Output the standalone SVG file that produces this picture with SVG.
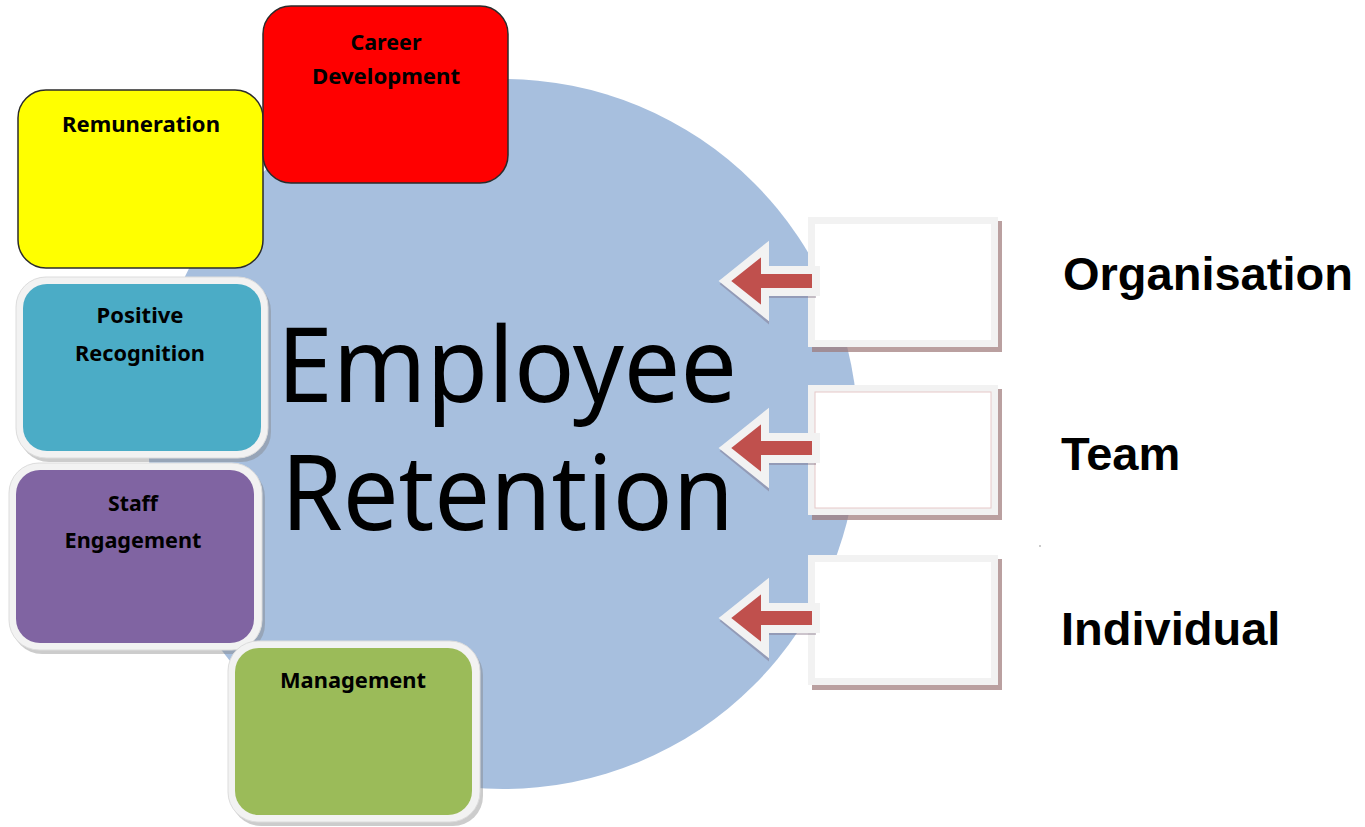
<svg xmlns="http://www.w3.org/2000/svg" width="1365" height="827" viewBox="0 0 1365 827">
  <style>
    .lbl { font-family: "Noto Sans", "Open Sans", sans-serif; font-weight: bold; font-size: 21px; fill: #000; text-anchor: middle; }
    .big { font-family: "Noto Sans", "Open Sans", sans-serif; font-size: 104px; fill: #000; }
    .side { font-family: "Liberation Sans", Arial, sans-serif; font-weight: bold; font-size: 47px; fill: #000; }
    .plain { stroke: #2b2b2b; stroke-width: 1.5; }
    .frame { fill: #f2f2f2; stroke: #dcdcdc; stroke-width: 1; }
    .shadow { fill: #7f7f7f; opacity: 0.4; }
    .slot-frame { fill: #f2f2f2; }
    .slot-shadow { fill: #9c7878; opacity: 0.7; }
    .arrow { fill: #c0504d; stroke: #f2f2f2; stroke-width: 8; stroke-linejoin: miter; }
    .arrow-shadow { fill: #6f5a70; stroke: #6f5a70; stroke-width: 8; opacity: 0.35; }
  </style>

  <rect width="1365" height="827" fill="#ffffff"/>

  <!-- central disc -->
  <circle id="hub" cx="503" cy="434" r="355" fill="#a7bfde"/>

  <!-- hub title -->
  <g id="title">
    <text class="big" x="277" y="402" textLength="460" lengthAdjust="spacingAndGlyphs">Employee</text>
    <text class="big" x="281" y="530" textLength="453" lengthAdjust="spacingAndGlyphs">Retention</text>
  </g>

  <!-- factor tiles -->
  <g id="remuneration">
    <rect class="plain" x="18" y="90" width="245" height="178" rx="28" fill="#ffff00"/>
    <text class="lbl" x="141" y="132" textLength="158" lengthAdjust="spacingAndGlyphs">Remuneration</text>
  </g>

  <g id="career-development">
    <rect class="plain" x="263" y="6" width="245" height="177" rx="28" fill="#ff0000"/>
    <text class="lbl" x="386" y="50" textLength="71" lengthAdjust="spacingAndGlyphs">Career</text>
    <text class="lbl" x="386" y="84" textLength="148" lengthAdjust="spacingAndGlyphs">Development</text>
  </g>

  <g id="positive-recognition">
    <rect class="shadow" x="19" y="281" width="252" height="181" rx="30"/>
    <rect class="frame" x="16" y="277" width="252" height="181" rx="30"/>
    <rect x="23" y="284" width="238" height="167" rx="24" fill="#4bacc6"/>
    <text class="lbl" x="140" y="323" textLength="87" lengthAdjust="spacingAndGlyphs">Positive</text>
    <text class="lbl" x="140" y="361" textLength="130" lengthAdjust="spacingAndGlyphs">Recognition</text>
  </g>

  <g id="staff-engagement">
    <rect class="shadow" x="12" y="467" width="253" height="187" rx="30"/>
    <rect class="frame" x="9" y="463" width="253" height="187" rx="30"/>
    <rect x="16" y="470" width="238" height="173" rx="24" fill="#8064a2"/>
    <text class="lbl" x="133" y="511" textLength="50" lengthAdjust="spacingAndGlyphs">Staff</text>
    <text class="lbl" x="133" y="548" textLength="137" lengthAdjust="spacingAndGlyphs">Engagement</text>
  </g>

  <g id="management">
    <rect class="shadow" x="231" y="645" width="252" height="181" rx="30"/>
    <rect class="frame" x="228" y="641" width="252" height="181" rx="30"/>
    <rect x="235" y="648" width="237" height="167" rx="24" fill="#9bbb59"/>
    <text class="lbl" x="353" y="688" textLength="146" lengthAdjust="spacingAndGlyphs">Management</text>
  </g>

  <!-- level slots -->
  <g id="slot-organisation">
    <rect class="slot-shadow" x="812" y="221" width="190" height="131"/>
    <rect class="slot-frame" x="808" y="217" width="190" height="130"/>
    <rect x="815" y="224" width="176" height="116" fill="#ffffff"/>
  </g>
  <g id="slot-team">
    <rect class="slot-shadow" x="812" y="389" width="190" height="131"/>
    <rect class="slot-frame" x="808" y="385" width="190" height="130"/>
    <rect x="815" y="392" width="176" height="116" fill="#ffffff" stroke="#e6c8c8" stroke-width="1"/>
  </g>
  <g id="slot-individual">
    <rect class="slot-shadow" x="812" y="559" width="190" height="131"/>
    <rect class="slot-frame" x="808" y="555" width="190" height="130"/>
    <rect x="815" y="562" width="176" height="116" fill="#ffffff"/>
  </g>

  <!-- arrows from slots into the hub -->
  <g id="connectors">
    <polygon class="arrow-shadow" points="726,284 765,253 765,274 812,274 812,294 765,294 765,316"/>
    <polygon class="arrow" points="725,281 765,249 765,270 816,270 816,292 765,292 765,313"/>
    <polygon class="arrow-shadow" points="726,451 765,420 765,441 812,441 812,461 765,461 765,483"/>
    <polygon class="arrow" points="725,448 765,416 765,437 816,437 816,459 765,459 765,480"/>
    <polygon class="arrow-shadow" points="726,621 765,590 765,611 812,611 812,631 765,631 765,653"/>
    <polygon class="arrow" points="725,618 765,586 765,607 816,607 816,629 765,629 765,650"/>
  </g>

  <!-- level labels -->
  <g id="levels">
    <text class="side" x="1063" y="290">Organisation</text>
    <text class="side" x="1061" y="470">Team</text>
    <text class="side" x="1061" y="645">Individual</text>
  </g>

  <circle cx="1040" cy="546" r="0.8" fill="#888888"/>
</svg>
